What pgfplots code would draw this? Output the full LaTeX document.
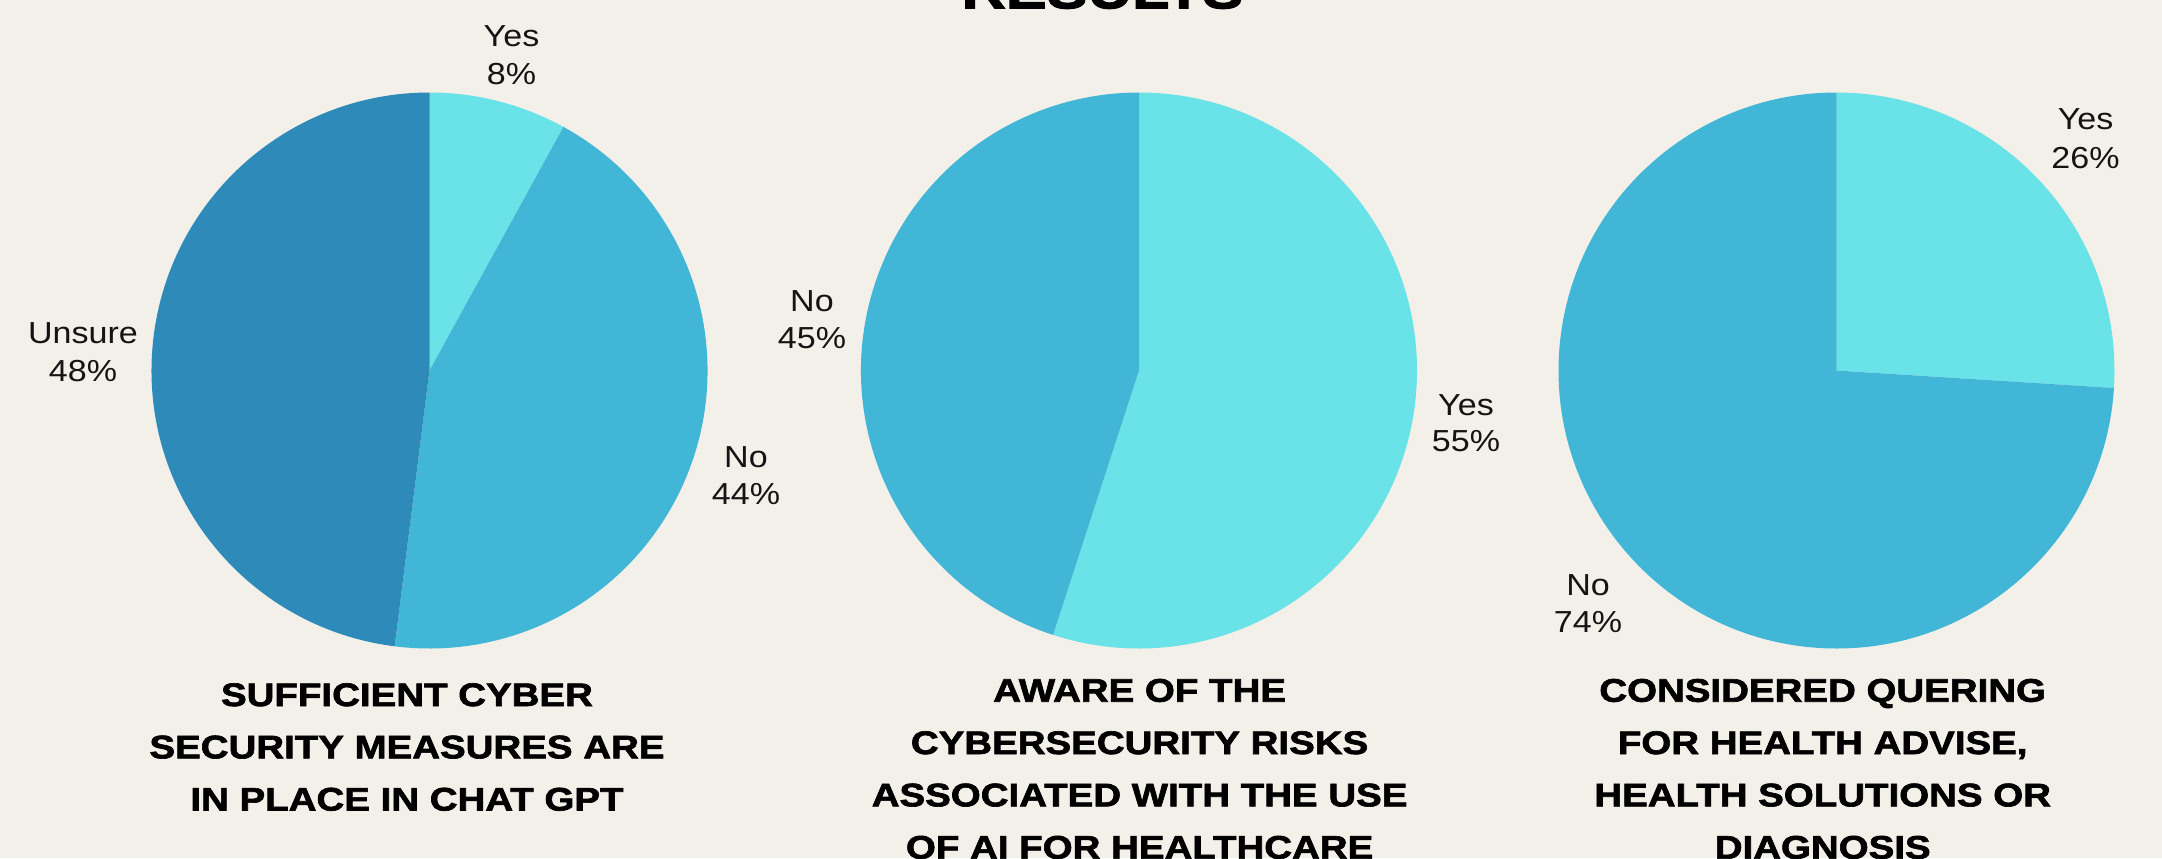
\documentclass[border=0pt]{standalone}
\usepackage{fontspec}
\usepackage{pgfplots}
\pgfplotsset{compat=1.18}
\setmainfont{Liberation Sans}
\newfontfamily\titlefont{Liberation Sans}[FakeStretch=1.18, BoldFeatures={FakeBold=2}]
\newfontfamily\labelfont{Liberation Sans}[FakeStretch=1.12]
\definecolor{bg}{HTML}{F3F0E9}
\definecolor{cYes}{HTML}{69E3E7}
\definecolor{cNo}{HTML}{42B6D6}
\definecolor{cUnsure}{HTML}{2E8AB8}
\definecolor{txt}{HTML}{141414}
% a sector from angle #1 to angle #2 (degrees, clockwise from #1)
\newcommand{\sector}[3]{\fill[#3] (axis cs:0,0) -- (axis cs:{139*cos(#1)},{139*sin(#1)}) arc[start angle=#1, end angle=#2, radius=139] -- cycle;}
\pgfplotsset{piestyle/.style={hide axis, scale only axis, width=278pt, height=278pt,
  xmin=-139, xmax=139, ymin=-139, ymax=139, anchor=center, clip=false}}
\begin{document}
\begin{tikzpicture}[x=0.5pt, y=-0.5pt]
\clip (0,0) rectangle (2162,858);
\fill[bg] (0,0) rectangle (2162,858);
% Pie 1: Yes 8, No 44, Unsure 48
\begin{axis}[piestyle, at={(214.75pt,-185.25pt)}]
\sector{90}{90-3.6*8}{cYes}
\sector{90-3.6*8}{90-3.6*(8+44)}{cNo}
\sector{90-3.6*(8+44)}{90-3.6*(8+44+48)}{cUnsure}
\end{axis}
% Pie 2: Yes 55, No 45
\begin{axis}[piestyle, at={(569.5pt,-185.25pt)}]
\sector{90}{90-3.6*55}{cYes}
\sector{90-3.6*55}{90-3.6*(55+45)}{cNo}
\end{axis}
% Pie 3: Yes 26, No 74
\begin{axis}[piestyle, at={(918.25pt,-185.25pt)}]
\sector{90}{90-3.6*26}{cYes}
\sector{90-3.6*26}{90-3.6*(26+74)}{cNo}
\end{axis}
% slice labels
\tikzset{lab/.style={anchor=base, inner sep=0pt, text=txt, font=\labelfont\fontsize{15.2}{18}\selectfont}}
\node[lab] at (511.5,46.6) {Yes};
\node[lab] at (511.5,84) {8\%};
\node[lab] at (83,343.3) {Unsure};
\node[lab] at (83,381) {48\%};
\node[lab] at (746,467.5) {No};
\node[lab] at (746,504.5) {44\%};
\node[lab] at (812,311.5) {No};
\node[lab] at (812,348.6) {45\%};
\node[lab] at (1466,415) {Yes};
\node[lab] at (1466,451.7) {55\%};
\node[lab] at (2085.5,129.5) {Yes};
\node[lab] at (2085.5,168) {26\%};
\node[lab] at (1588,595.4) {No};
\node[lab] at (1588,632.6) {74\%};
% titles
\tikzset{ttl/.style={anchor=base, inner sep=0pt, text=black, font=\titlefont\bfseries\fontsize{16.3}{26}\selectfont}}
\node[ttl, font=\titlefont\bfseries\fontsize{26}{30}\selectfont] at (1102.5,8.3) {RESULTS};
\node[ttl] at (407,706) {SUFFICIENT CYBER};
\node[ttl] at (407,758.3) {SECURITY MEASURES ARE};
\node[ttl] at (407,810.5) {IN PLACE IN CHAT GPT};
\node[ttl] at (1139.6,701.7) {AWARE OF THE};
\node[ttl] at (1139.6,754) {CYBERSECURITY RISKS};
\node[ttl] at (1139.6,806.3) {ASSOCIATED WITH THE USE};
\node[ttl] at (1139.6,858.6) {OF AI FOR HEALTHCARE};
\node[ttl] at (1822.7,701.7) {CONSIDERED QUERING};
\node[ttl] at (1822.7,754) {FOR HEALTH ADVISE,};
\node[ttl] at (1822.7,806.3) {HEALTH SOLUTIONS OR};
\node[ttl] at (1822.7,858.6) {DIAGNOSIS};
\end{tikzpicture}
\end{document}
